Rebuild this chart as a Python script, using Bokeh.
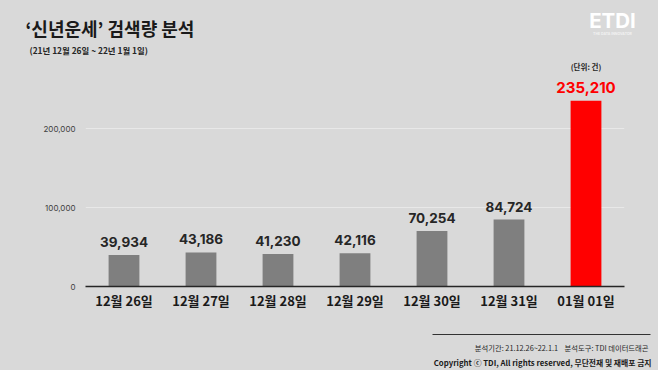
from bokeh.plotting import figure
from bokeh.models import ColumnDataSource, Label, FixedTicker, NumeralTickFormatter, Range1d
from bokeh.layouts import column
from bokeh.core.properties import value
from bokeh.embed import file_html
from bokeh.resources import INLINE

# ---- data ----
dates = ["12월 26일", "12월 27일", "12월 28일", "12월 29일", "12월 30일", "12월 31일", "01월 01일"]
counts = [39934, 43186, 41230, 42116, 70254, 84724, 235210]
y_ticks = [0, 100000, 200000]
title_text = "‘신년운세’ 검색량 분석"
subtitle_text = "(21년 12월 26일 ~ 22년 1월 1일)"
unit_text = "(단위: 건)"
footer1 = "분석기간: 21.12.26~22.1.1\u00a0\u00a0\u00a0\u00a0분석도구: TDI 데이터드래곤"
footer2 = "Copyright ⓒ TDI, All rights reserved, 무단전재 및 재배포 금지"

BG = "#d9d9d9"
KR = "Noto Sans CJK KR"
NUM = "Inter"
W = 658

# page rows (pixels): header 0-58, chart 58-325, footer 325-370
HEAD_H, MAIN_TOP, MAIN_BOT, TOTAL_H = 58, 58, 325, 370
FL, FR, FB = 85, 624, 286      # frame edges of the chart
PX_PER_100K = 79.0
y_end = (FB - MAIN_TOP) / PX_PER_100K * 100000


def panel(h, y0, y1):
    f = figure(width=W, height=h, x_range=Range1d(0, W), y_range=Range1d(y1, y0),
               output_backend="svg", toolbar_location=None,
               x_axis_location=None, y_axis_location=None, frame_align=False,
               min_border=0, min_border_left=0, min_border_right=0,
               min_border_top=0, min_border_bottom=0)
    f.background_fill_color = BG
    f.border_fill_color = BG
    f.outline_line_color = None
    f.grid.visible = False
    return f


def txt(f, text, x, y, size, color="#1a1a1a", align="left", font=KR, style="bold"):
    f.add_layout(Label(x=x, y=y, text=text, text_font=font, text_font_size=size,
                       text_font_style=style, text_color=color,
                       text_align=align, text_baseline="middle"))


# ---- header ----
head = panel(HEAD_H, 0, HEAD_H)
txt(head, title_text, 25, 27, "18px")
txt(head, subtitle_text, 29, 49, "8.4px", color="#262626")
txt(head, "ETDI", 612, 20, "20.5px", color="#ffffff", align="center", font=NUM)
txt(head, "THE DATA INNOVATOR", 612, 33, "3.5px", color="#f2f2f2", align="center", font=NUM)

# ---- chart ----
p = figure(x_range=dates, y_range=(0, y_end), width=W, height=MAIN_BOT - MAIN_TOP,
           output_backend="svg", toolbar_location=None, frame_align=False,
           min_border_left=FL, min_border_right=W - FR,
           min_border_bottom=MAIN_BOT - FB, min_border_top=0)
p.background_fill_color = BG
p.border_fill_color = BG
p.outline_line_color = None

colors = ["#7f7f7f"] * (len(dates) - 1) + ["#ff0000"]
label_colors = ["#262626"] * (len(dates) - 1) + ["#ff0000"]
label_sizes = ["13.5px"] * (len(dates) - 1) + ["15px"]
labels = [f"{v:,}" for v in counts]
src = ColumnDataSource(dict(x=dates, y=counts, c=colors, lc=label_colors,
                            ls=label_sizes, t=labels))

p.vbar(x="x", top="y", width=0.4, fill_color="c", line_color=None, source=src)
p.text(x="x", y="y", text="t", text_color="lc", text_font_size="ls",
       text_font=value(NUM), text_font_style="bold", text_align="center",
       text_baseline="bottom", y_offset=-8, source=src)

p.yaxis.ticker = FixedTicker(ticks=y_ticks)
p.yaxis.formatter = NumeralTickFormatter(format="0,0")
p.yaxis.axis_line_color = None
p.yaxis.major_tick_line_color = None
p.yaxis.major_tick_out = 0
p.yaxis.major_tick_in = 0
p.yaxis.minor_tick_line_color = None
p.yaxis.major_label_standoff = 10
p.yaxis.major_label_text_font = NUM
p.yaxis.major_label_text_font_size = "8px"
p.yaxis.major_label_text_color = "#404040"

p.xaxis.axis_line_color = "#262626"
p.xaxis.axis_line_width = 1.5
p.xaxis.major_tick_line_color = None
p.xaxis.major_tick_out = 0
p.xaxis.major_tick_in = 0
p.xaxis.minor_tick_line_color = None
p.xaxis.major_label_standoff = 4
p.xaxis.major_label_text_font = KR
p.xaxis.major_label_text_font_style = "bold"
p.xaxis.major_label_text_font_size = "13px"
p.xaxis.major_label_text_color = "#1a1a1a"

p.xgrid.grid_line_color = None
p.ygrid.grid_line_color = "#e8e8e8"
p.ygrid.grid_line_width = 1
p.ygrid.ticker = FixedTicker(ticks=y_ticks[1:])

# unit note above the last bar
p.text(x=[dates[-1]], y=[(FB - 66) * 100000 / PX_PER_100K], text=[unit_text],
       text_font=value(KR), text_font_size="7.5px", text_font_style="bold",
       text_color="#262626", text_align="center", text_baseline="middle")

# ---- footer ----
foot = panel(TOTAL_H - MAIN_BOT, MAIN_BOT, TOTAL_H)
foot.segment(x0=[432], y0=[334], x1=[650], y1=[334], line_color="#333333", line_width=1)
txt(foot, footer1, 648, 347, "7.3px", color="#262626", align="right", style="normal")
txt(foot, footer2, 651, 362, "7.8px", color="#1a1a1a", align="right")

layout = column(head, p, foot, spacing=0)
html = file_html(layout, INLINE)
html = html.replace("<head>", "<head><style>html,body{margin:0;padding:0;background:%s;}</style>" % BG, 1)
open("out.html", "w").write(html)
